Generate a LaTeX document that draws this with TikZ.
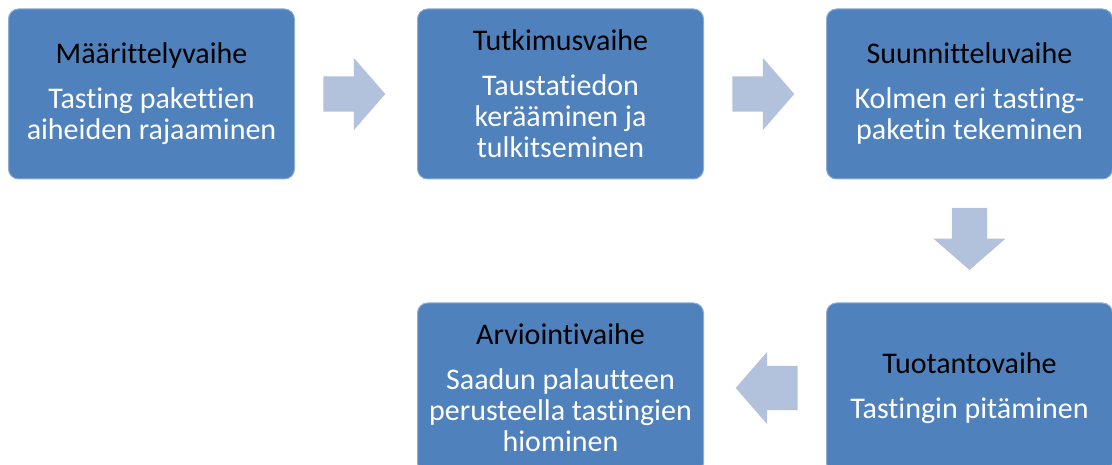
\documentclass[tikz,border=0pt]{standalone}
\usepackage{fontspec}
\setmainfont[Ligatures=NoCommon]{Carlito}
\usepackage{tikz}
\usetikzlibrary{positioning,shapes.arrows}
\definecolor{boxblue}{HTML}{4F81BD}
\definecolor{arrowblue}{HTML}{B2C1DC}
\tikzset{
  stage/.style={draw=boxblue!65!white,line width=1pt,fill=boxblue,rounded corners=10pt,
    minimum width=286pt,minimum height=170pt,inner sep=0pt,text=white,align=center,
    font=\fontsize{30}{31}\selectfont},
  flow/.style={single arrow,fill=arrowblue,inner xsep=0pt,inner ysep=17.5pt,
    minimum height=62pt,single arrow head extend=18.5pt,single arrow tip angle=98,
    anchor=tail,pos=.23},
  wideflow/.style={flow,inner ysep=22pt,single arrow head extend=14pt},
}
\newcommand*{\ttl}[1]{{\color{black}#1}\\[14pt]}

\begin{document}
\begin{tikzpicture}[x=1pt,y=-1pt]
\useasboundingbox (0,0) rectangle (1112,465);
\clip (0,0) rectangle (1112,465);
\node[stage] (mar) at (151.5,94) {\ttl{Määrittelyvaihe}Tasting pakettien\\aiheiden rajaaminen};
\node[stage,right=122pt of mar] (tut) {\ttl{Tutkimusvaihe}Taustatiedon\\kerääminen ja\\tulkitseminen};
\node[stage,right=122pt of tut] (suu) {\ttl{Suunnitteluvaihe}Kolmen eri tasting-\\paketin tekeminen};
\node[stage,below=123pt of suu] (tuo) {\ttl{Tuotantovaihe}Tastingin pitäminen};
\node[stage,left=122pt of tuo] (arv) {\ttl{Arviointivaihe}Saadun palautteen\\perusteella tastingien\\hiominen};
% block arrows between the stages
\path (mar) -- node[flow] {} (tut);
\path (tut) -- node[flow] {} (suu);
\path (suu) -- node[flow,rotate=-90] {} (tuo);
\path (tuo) -- node[wideflow,rotate=180] {} (arv);
\end{tikzpicture}
\end{document}
